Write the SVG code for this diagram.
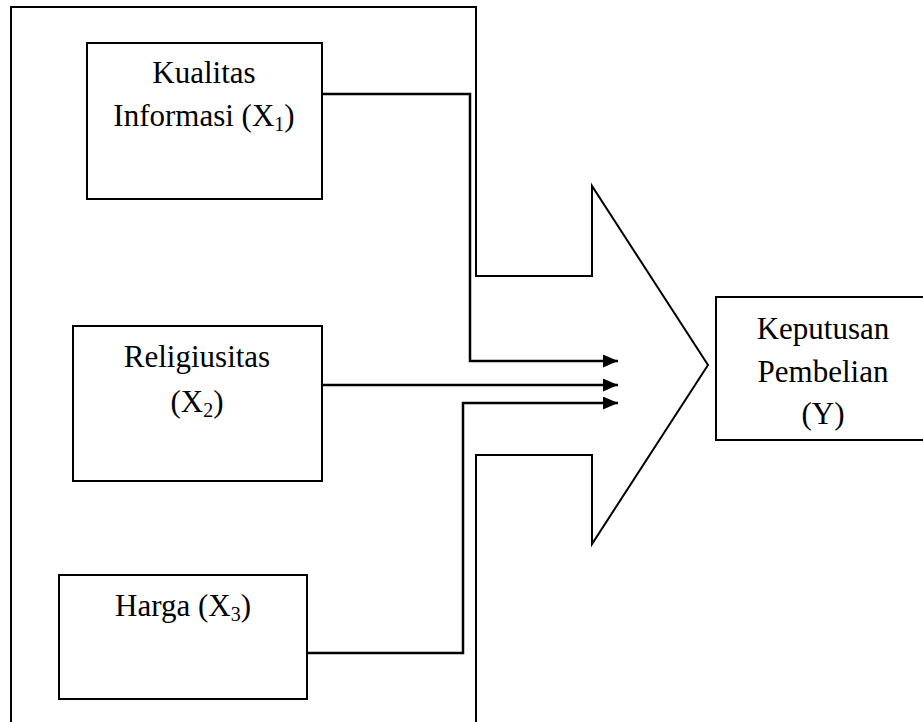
<svg xmlns="http://www.w3.org/2000/svg" width="923" height="722" viewBox="0 0 923 722">
<defs>
<style>
.box{fill:#fff;stroke:#000;stroke-width:2}
.frame{fill:none;stroke:#000;stroke-width:2;stroke-linejoin:miter}
.conn{fill:none;stroke:#000;stroke-width:2.5}
.t{font-family:"Liberation Serif","Times New Roman",serif;font-size:31px;fill:#000;text-anchor:middle}
.sub{font-size:20px}
</style>
<marker id="arr" viewBox="0 0 15 13" refX="15" refY="6.5" markerWidth="15" markerHeight="13" markerUnits="userSpaceOnUse" orient="auto">
<path d="M0,0 L15,6.5 L0,13 z" fill="#000"/>
</marker>
</defs>
<rect width="923" height="722" fill="#fff"/>
<g id="frame">
<path class="frame" d="M476,730 V455 H592 V544 L708,365 L592,186 V276 H476 V7 H11 V730"/>
</g>
<g id="x1">
<rect class="box" x="87" y="43" width="235" height="156"/>
<text class="t" x="204" y="83">Kualitas</text>
<text class="t" x="204" y="126">Informasi (X<tspan class="sub" dy="5">1</tspan><tspan dy="-5">)</tspan></text>
</g>
<g id="x2">
<rect class="box" x="73" y="326" width="249" height="155"/>
<text class="t" x="197" y="367">Religiusitas</text>
<text class="t" x="197" y="412">(X<tspan class="sub" dy="5">2</tspan><tspan dy="-5">)</tspan></text>
</g>
<g id="x3">
<rect class="box" x="59" y="575" width="248" height="124"/>
<text class="t" x="183" y="616">Harga (X<tspan class="sub" dy="5">3</tspan><tspan dy="-5">)</tspan></text>
</g>
<g id="y">
<rect class="box" x="716" y="297" width="214" height="143"/>
<text class="t" x="823" y="339">Keputusan</text>
<text class="t" x="823" y="381.5">Pembelian</text>
<text class="t" x="823" y="424">(Y)</text>
</g>
<g id="connectors">
<path class="conn" d="M322,94 H470 V361 H618" marker-end="url(#arr)"/>
<path class="conn" d="M322,385 H618" marker-end="url(#arr)"/>
<path class="conn" d="M307,653 H463 V403 H618" marker-end="url(#arr)"/>
</g>
</svg>
